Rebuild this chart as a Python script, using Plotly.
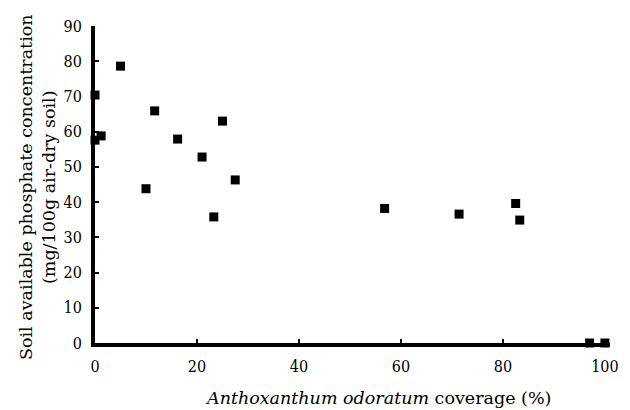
import plotly.graph_objects as go

coverage = [0, 0, 1.2, 5.0, 11.7, 25.0, 16.2, 21.0, 27.5, 10.0, 23.3, 56.8, 71.4, 82.5, 83.3, 97, 100]
phosphate = [70.4, 57.6, 58.8, 78.6, 65.9, 63.0, 57.9, 52.8, 46.3, 43.8, 35.8, 38.2, 36.6, 39.6, 34.9, 0, 0]

x_ticks = [0, 20, 40, 60, 80, 100]
y_ticks = [0, 10, 20, 30, 40, 50, 60, 70, 80, 90]

x_title = "<i>Anthoxanthum odoratum</i> coverage (%)"
y_title = "Soil available phosphate concentration<br>(mg/100g air-dry soil)"

tick_font = dict(family="DejaVu Serif Condensed, DejaVu Serif", size=16, color="black")
title_font = dict(family="DejaVu Serif", size=17.5, color="black")

# the page body adds an 8px offset; compensate so the plot lands where the reference has it
fig = go.Figure()
fig.add_trace(go.Scatter(
    x=coverage, y=phosphate, mode="markers",
    marker=dict(symbol="square", size=9, color="black"),
    cliponaxis=False, showlegend=False,
))

fig.update_layout(
    width=622, height=402,
    margin=dict(l=87, r=20, t=18, b=67),
    paper_bgcolor="white", plot_bgcolor="white",
    font=dict(family="DejaVu Serif", size=14, color="black"),
)
fig.update_xaxes(
    range=[0, 101], tickvals=x_ticks, ticktext=[str(v) for v in x_ticks],
    showline=True, linecolor="black", linewidth=4,
    ticks="inside", ticklen=4, tickwidth=2, tickcolor="black",
    showgrid=False, zeroline=False, automargin=False,
    tickfont=tick_font, ticklabelstandoff=6,
)
fig.update_yaxes(
    range=[0, 90], tickvals=y_ticks, ticktext=[str(v) for v in y_ticks],
    showline=True, linecolor="black", linewidth=4,
    ticks="inside", ticklen=4, tickwidth=2, tickcolor="black",
    showgrid=False, zeroline=False, automargin=False,
    tickfont=tick_font, ticklabelstandoff=6,
)

fig.add_annotation(
    text=x_title, xref="paper", yref="paper",
    x=(378 - 95) / 515, y=(343 - 398) / 317,
    xanchor="center", yanchor="middle", showarrow=False, font=title_font,
)
fig.add_annotation(
    text=y_title, xref="paper", yref="paper",
    x=(38 - 95) / 515, y=(343 - 187) / 317, textangle=-90,
    xanchor="center", yanchor="middle", showarrow=False, font=title_font,
)

fig.write_html("out.html")
